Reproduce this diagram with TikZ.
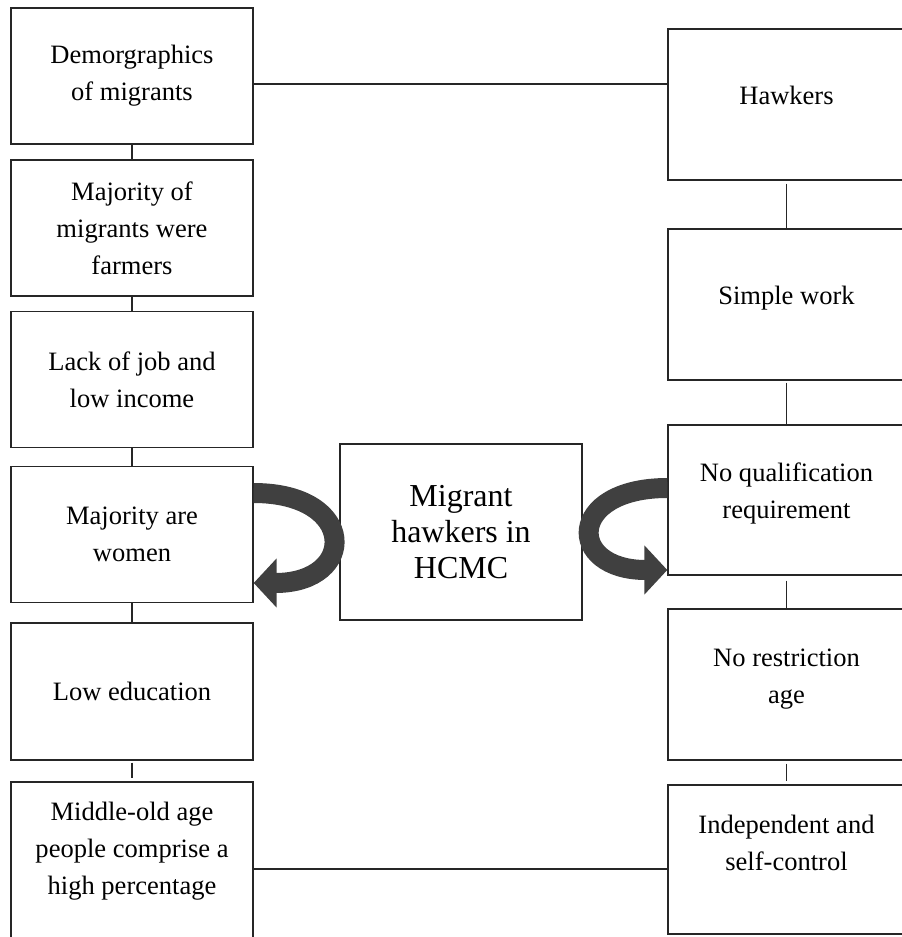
\documentclass[tikz,border=0pt]{standalone}
\usepackage{fontspec}
\setmainfont{Liberation Serif}
\usetikzlibrary{arrows.meta}
\definecolor{arrowgray}{RGB}{64,64,64}
\newcommand{\lift}[1]{\rule[-#1]{0pt}{#1}}

\begin{document}
\begin{tikzpicture}[x=0.02cm,y=-0.02cm,
  box/.style={draw=black!85,line width=0.8pt,inner sep=0pt,align=center,font=\fontsize{15.1}{21}\selectfont},
  lbox/.style={box,minimum width=4.84cm,minimum height=2.72cm},
  rbox/.style={box,minimum width=4.74cm,minimum height=3.02cm},
  link/.style={draw=black!85,line width=0.8pt},
  turn/.style={draw=arrowgray,line width=0.4cm,-{Triangle[width=0.96cm,length=0.46cm]}}
]
\clip (0,0) rectangle (902,937);

\node[lbox] (l1) at (132,76) {Demorgraphics\\of migrants};
\node[lbox] (l2) at (132,228) {Majority of\\migrants were\\farmers};
\node[lbox] (l3) at (132,379.5) {Lack of job and\\low income};
\node[lbox] (l4) at (132,534.5) {Majority are\\women};
\node[lbox,minimum height=2.74cm] (l5) at (132,691.5) {Low education};
\node[lbox,minimum height=3.36cm] (l6) at (132,866) {Middle-old age\\people comprise a\\high percentage\lift{0.72cm}};

\node[rbox] (r1) at (786.5,104.5) {Hawkers\lift{0.38cm}};
\node[rbox] (r2) at (786.5,304.5) {Simple work\lift{0.38cm}};
\node[rbox,minimum height=3cm] (r3) at (786.5,500) {No qualification\\requirement\lift{0.36cm}};
\node[rbox] (r4) at (786.5,684.5) {No restriction\\age\lift{0.34cm}};
\node[rbox,minimum height=2.98cm] (r5) at (786.5,859.5) {Independent and\\self-control\lift{0.66cm}};

\node[box,minimum width=4.84cm,minimum height=3.52cm,font=\fontsize{18.2}{20.5}\selectfont] (mid) at (461,532) {Migrant\\hawkers in\\HCMC};

\draw[link] (l1) -- (l2);
\draw[link] (l2) -- (l3);
\draw[link] (l3) -- (l4);
\draw[link] (l4) -- (l5);
\draw[link,shorten <=0.04cm,shorten >=0.06cm] (l5) -- (l6);

\draw[link,shorten <=0.06cm] (r1) -- (r2);
\draw[link,shorten <=0.04cm] (r2) -- (r3);
\draw[link,shorten <=0.1cm] (r3) -- (r4);
\draw[link,shorten <=0.06cm,shorten >=0.06cm] (r4) -- (r5);

\draw[link] ([yshift=-0.16cm]l1.east) coordinate (t1) -- (t1 -| r1.west);
\draw[link] ([yshift=-0.06cm]l6.east) coordinate (b1) -- (b1 -| r5.west);

\draw[turn] ([yshift=0.83cm]l4.east) .. controls +(2.08cm,0) and +(2.08cm,0) .. ([yshift=-0.97cm]l4.east);
\draw[turn] ([yshift=0.24cm]r3.west) .. controls +(-2.02cm,0) and +(-2.02cm,0) .. ([yshift=-1.4cm]r3.west);
\end{tikzpicture}
\end{document}
